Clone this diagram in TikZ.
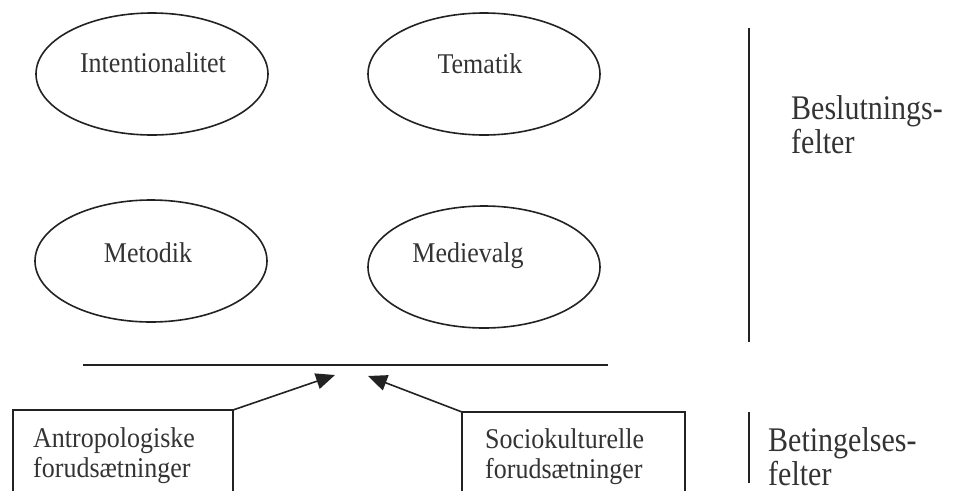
\documentclass[tikz,border=0pt]{standalone}
\usepackage{graphicx}
\usepackage{fontspec}
\setmainfont{Liberation Serif}
\usetikzlibrary{shapes.geometric,arrows.meta}
\definecolor{ink}{HTML}{222222}
\definecolor{txt}{HTML}{333333}
% slightly tall lettering
\newcommand\tallA[1]{\scalebox{1}[1.1]{#1}}
\newcommand\tallB[1]{\scalebox{1}[1.15]{#1}}
\tikzset{
  field/.style={draw=ink, line width=1.6pt, ellipse, minimum width=232pt, minimum height=122pt, inner sep=0pt},
  fieldtext/.style={anchor=base, inner sep=0pt, text=txt, font=\fontsize{26}{30}\selectfont},
  boxtext/.style={anchor=base west, inner sep=0pt, text=txt, align=left, font=\fontsize{26}{30}\selectfont},
  sidetext/.style={anchor=base west, inner sep=0pt, text=txt, align=left, font=\fontsize{30}{34}\selectfont},
  rule/.style={draw=ink, line width=1.6pt},
  push/.style={draw=ink, line width=1.6pt, -{Triangle[length=19pt,width=16pt]}}
}
\begin{document}
\begin{tikzpicture}[x=1pt, y=-1pt]
\useasboundingbox (0,0) rectangle (954,491);

% decision fields
\node[field] (int) at (152,74) {};
\node[field] (tem) at (484,74) {};
\node[field] (met) at (151,261) {};
\node[field] (med) at (484,267) {};
\node[fieldtext] (intT) at (153,72) {\tallA{Intentionalitet}};
\node[fieldtext] (temT) at (480,73) {\tallA{Tematik}};
\node[fieldtext] (metT) at (148,262) {\tallA{Metodik}};
\node[fieldtext] (medT) at (468,262) {\tallA{Medievalg}};

% dividing line between the two fields
\coordinate (divL) at (83,365);
\coordinate (divR) at (608,365);
\draw[rule] (divL) -- (divR);

% condition boxes, open towards the bottom edge
\coordinate (aBL) at (13,491);
\coordinate (aTL) at (13,410);
\coordinate (aTR) at (233,410);
\coordinate (aBR) at (233,491);
\draw[rule] (aBL) -- (aTL) -- (aTR) -- (aBR);
\node[boxtext] (anT) at (33,477) {\tallA{Antropologiske}\\\tallA{forudsætninger}};

\coordinate (sBL) at (462,491);
\coordinate (sTL) at (462,412);
\coordinate (sTR) at (685,412);
\coordinate (sBR) at (685,491);
\draw[rule] (sBL) -- (sTL) -- (sTR) -- (sBR);
\node[boxtext] (soT) at (485,478) {\tallA{Sociokulturelle}\\\tallA{forudsætninger}};

% arrows up to the dividing line
\coordinate (tipL) at (335,375);
\coordinate (tipR) at (368,376);
\draw[push] (aTR) -- (tipL);
\draw[push] (sTL) -- (tipR);

% side brackets and labels
\coordinate (bTop) at (749,28);
\coordinate (bBot) at (749,342);
\draw[rule] (bTop) -- (bBot);
\node[sidetext] (besl) at (791,153) {\tallB{Beslutnings-}\\\tallB{felter}};

\coordinate (cTop) at (749,412);
\coordinate (cBot) at (749,483);
\draw[rule] (cTop) -- (cBot);
\node[sidetext] (bet) at (768,485) {\tallB{Betingelses-}\\\tallB{felter}};
\end{tikzpicture}
\end{document}
